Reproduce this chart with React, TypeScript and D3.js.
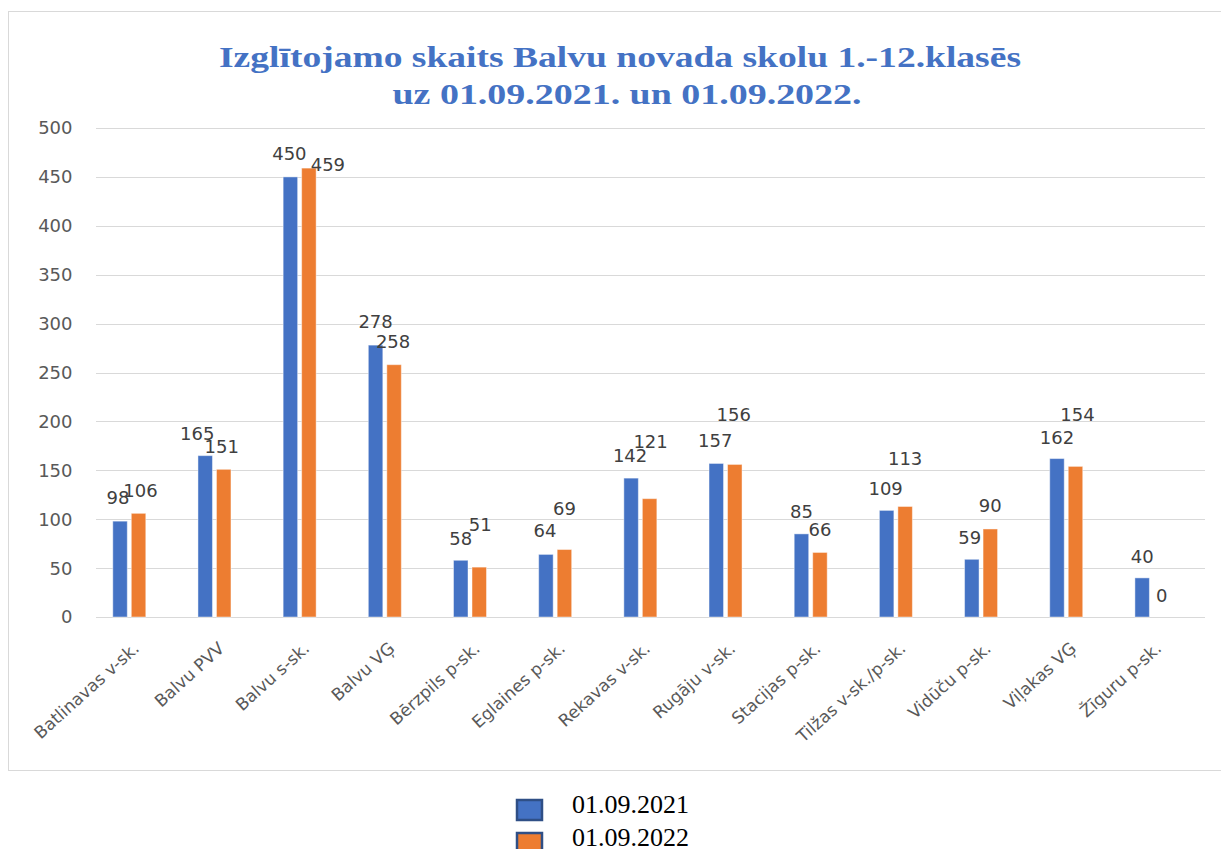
import React from 'react';
import * as d3 from 'd3';

// Skolas un izglītojamo skaits
const schools = [
  'Batlinavas v-sk.',
  'Balvu PVV',
  'Balvu s-sk.',
  'Balvu VĢ',
  'Bērzpils p-sk.',
  'Eglaines p-sk.',
  'Rekavas v-sk.',
  'Rugāju v-sk.',
  'Stacijas p-sk.',
  'Tilžas v-sk./p-sk.',
  'Vidūču p-sk.',
  'Viļakas VĢ',
  'Žīguru p-sk.',
];
const values2021 = [98, 165, 450, 278, 58, 64, 142, 157, 85, 109, 59, 162, 40];
const values2022 = [106, 151, 459, 258, 51, 69, 121, 156, 66, 113, 90, 154, 0];
const seriesNames = ['01.09.2021', '01.09.2022'];
const yTicks = [0, 50, 100, 150, 200, 250, 300, 350, 400, 450, 500];

// label nudges (dx, dy) – the labels in the original were dragged by hand
const nudge2021: [number, number][] = [
  [-2, -1], [-8, 0], [-1, -1], [0, -1], [0, 1], [-1, -1], [-1, 0],
  [-1, 0], [0, 0], [-1, 1], [-2, 1], [0, 1], [0, 1],
];
const nudge2022: [number, number][] = [
  [2, 0], [-2, 0], [19, 19], [-1, -1], [1, -20], [0, -19], [1, -35],
  [-1, -27], [0, 0], [0, -25], [0, -1], [2, -29], [1, 1],
];

const colors = ['#4472C4', '#ED7D31'];

export default function App() {
  const W = 1221;
  const H = 849;

  const x = d3.scaleBand<string>().domain(schools).range([86.7, 1194]).padding(0);
  const y = d3.scaleLinear().domain([0, 500]).range([617, 128]);

  const barW = 14.5;
  const gap = 4;
  const center = (s: string) => (x(s) as number) + x.bandwidth() / 2;

  const series = [values2021, values2022];
  const nudges = [nudge2021, nudge2022];

  const font = "'DejaVu Sans', sans-serif";

  return (
    <svg
      width={W}
      height={H}
      style={{ position: 'absolute', left: 0, top: 0, background: '#fff' }}
    >
      {/* chart frame */}
      <rect x={8.5} y={11.5} width={1230} height={759} fill="#fff" stroke="#d9d9d9" />

      {/* title */}
      <g fill="#4472C4" fontFamily="'Liberation Serif', 'Times New Roman', serif" fontWeight="bold" fontSize={30} textAnchor="middle">
        <text x={620} y={67} textLength={802} lengthAdjust="spacingAndGlyphs">
          Izglītojamo skaits Balvu novada skolu 1.-12.klasēs
        </text>
        <text x={627} y={104} textLength={469} lengthAdjust="spacingAndGlyphs">
          uz 01.09.2021. un 01.09.2022.
        </text>
      </g>

      {/* grid + y ticks */}
      {yTicks.map((t) => (
        <g key={t}>
          <line x1={96} x2={1205} y1={Math.round(y(t)) + 0.5} y2={Math.round(y(t)) + 0.5} stroke="#d9d9d9" />
          <text x={72.5} y={y(t)} dy="0.36em" textAnchor="end" fontFamily={font} fontSize={18} fill="#595959">
            {t}
          </text>
        </g>
      ))}

      {/* bars */}
      {series.map((vals, si) =>
        schools.map((s, i) => {
          const bx = si === 0 ? center(s) - gap / 2 - barW : center(s) + gap / 2;
          const v = vals[i];
          if (v === 0) return null;
          return (
            <rect
              key={si + '-' + s}
              x={bx}
              y={y(v)}
              width={barW}
              height={y(0) - y(v)}
              fill={colors[si]}
              stroke="#ffffff"
              strokeOpacity={0.45}
              strokeWidth={1}
            />
          );
        })
      )}

      {/* data labels */}
      {series.map((vals, si) =>
        schools.map((s, i) => {
          const bx = si === 0 ? center(s) - gap / 2 - barW / 2 : center(s) + gap / 2 + barW / 2;
          const [dx, dy] = nudges[si][i];
          return (
            <text
              key={'l' + si + '-' + s}
              x={bx + dx}
              y={y(vals[i]) - 16 + dy}
              textAnchor="middle"
              fontFamily={font}
              fontSize={18}
              fill="#404040"
            >
              {vals[i]}
            </text>
          );
        })
      )}

      {/* category labels */}
      {schools.map((s) => {
        const cx = center(s) + 11;
        const cy = 650;
        return (
          <text
            key={'c' + s}
            x={cx}
            y={cy}
            textAnchor="end"
            transform={`rotate(-42, ${cx}, ${cy})`}
            fontFamily={font}
            fontSize={17}
            fill="#595959"
          >
            {s}
          </text>
        );
      })}

      {/* legend */}
      {seriesNames.map((n, i) => (
        <g key={n} transform={`translate(517, ${800 + i * 33})`}>
          <rect x={0} y={0} width={25} height={20} fill={colors[i]} stroke="#2F4F86" strokeWidth={2.5} />
          <text x={55} y={12.5} fontFamily="'Liberation Serif', 'Times New Roman', serif" fontSize={26} fill="#000">
            {n}
          </text>
        </g>
      ))}
    </svg>
  );
}
